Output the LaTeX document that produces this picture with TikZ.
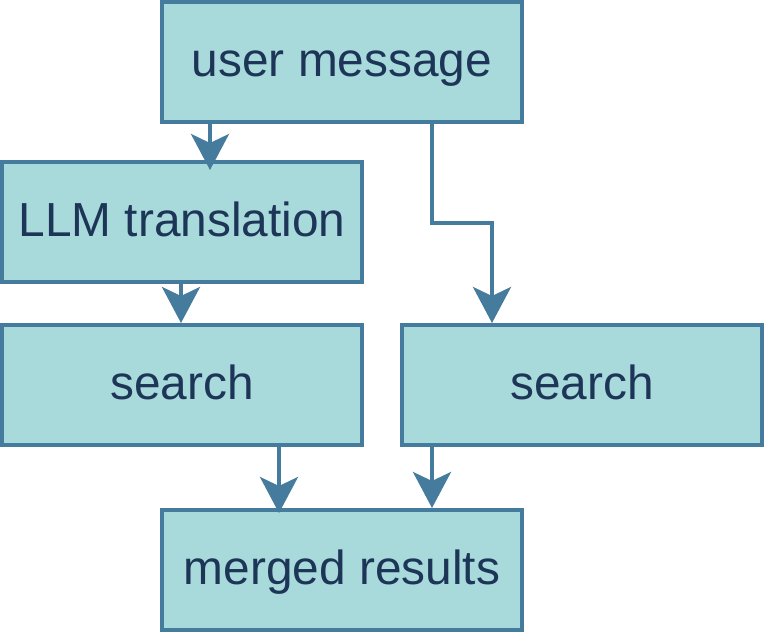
\documentclass[tikz,border=0pt]{standalone}
\usepackage{fontspec}
\setmainfont{Liberation Sans}
\usetikzlibrary{arrows.meta}
\definecolor{boxfill}{HTML}{A8DADC}
\definecolor{boxline}{HTML}{457B9D}
\definecolor{boxtext}{HTML}{1D3557}
\tikzset{
  box/.style={draw=boxline, fill=boxfill, line width=4pt, minimum width=360pt, minimum height=120pt,
    inner sep=0pt, outer sep=0pt, text=boxtext, text height=28pt, text depth=0pt,
    font=\fontsize{47.8}{57}\selectfont},
  arr/.style={draw=boxline, line width=4pt, -{Stealth[length=36pt 0 0, width=38pt 0 0, inset=9pt 0 0]}}
}
\begin{document}
\begin{tikzpicture}[x=1pt,y=-1pt]
\useasboundingbox (0,0) rectangle (764,632);
\node[box] (um) at (342,62) {user message};
\node[box] (llm) at (182,222) {LLM translation};
\node[box] (sl) at (182,385) {search};
\node[box] (sr) at (582,385) {search};
\node[box] (mr) at (342,570) {merged results};
\coordinate (c1) at (210,0);
\coordinate (c2) at (432,0);
\coordinate (c3) at (492,0);
\coordinate (c4) at (181,0);
\coordinate (c5) at (279,0);
\coordinate (e1) at (0,223);
\draw[arr] (um.south -| c1) -- ([yshift=-8pt]llm.north -| c1);
\draw[arr] (um.south -| c2) -- (c2 |- e1) -- (c3 |- e1) -- ([yshift=2pt]sr.north -| c3);
\draw[arr] (llm.south -| c4) -- ([yshift=2pt]sl.north -| c4);
\draw[arr] (sl.south -| c5) -- ([yshift=-3pt]mr.north -| c5);
\draw[arr] (sr.south -| c2) -- ([yshift=2pt]mr.north -| c2);
\end{tikzpicture}
\end{document}
